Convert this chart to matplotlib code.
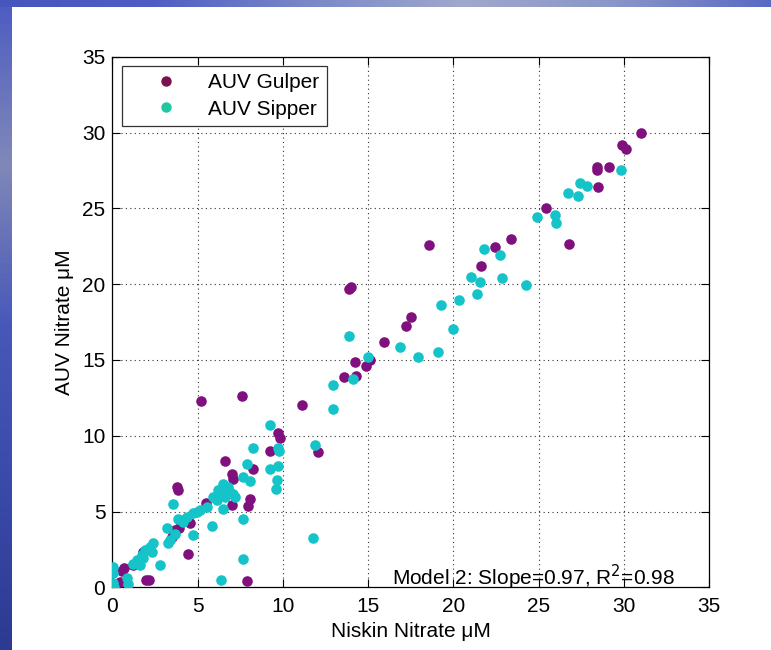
import numpy as np
import matplotlib
matplotlib.use("Agg")
import matplotlib.pyplot as plt
from matplotlib.lines import Line2D
from matplotlib.colors import LinearSegmentedColormap

plt.rcParams['font.family'] = ['Liberation Sans', 'DejaVu Sans']

# ---- data ----
gulper_x = [31.0, 29.9, 30.1, 28.4, 28.4, 29.1, 28.5, 25.4, 26.8, 23.4, 22.46, 21.64, 18.59,
            14.0, 13.9, 17.54, 17.2, 15.92, 14.24, 14.86, 15.1, 13.6, 14.3, 7.58, 5.2, 11.15,
            9.73, 9.82, 12.07, 9.24, 6.6, 8.26, 7.0, 7.09, 7.02, 8.05, 7.95, 5.51, 3.8, 3.85,
            4.55, 3.9, 3.48, 3.67, 4.45, 1.82, 1.23, 0.7, 0.55, 0.45, 1.95, 2.15, 7.87]
gulper_y = [30.0, 29.2, 28.9, 27.7, 27.5, 27.7, 26.4, 25.05, 22.66, 22.97, 22.48, 21.17, 22.61,
            19.8, 19.65, 17.86, 17.22, 16.21, 14.85, 14.59, 15.0, 13.9, 13.95, 12.61, 12.28, 12.0,
            10.18, 9.87, 8.93, 8.97, 8.36, 7.78, 7.45, 7.18, 5.45, 5.83, 5.39, 5.57, 6.6, 6.45,
            4.22, 3.92, 3.34, 3.78, 2.22, 2.33, 1.47, 1.26, 1.1, 0.37, 0.49, 0.49, 0.43]

sipper_x = [29.8, 27.44, 27.83, 26.73, 27.32, 24.9, 25.93, 26.0, 22.75, 21.78, 22.84, 24.28,
            21.0, 21.54, 21.4, 20.33, 19.26, 20.0, 13.89, 16.85, 17.93, 19.1, 15.0, 14.1, 12.91,
            12.91, 9.24, 11.87, 8.26, 9.73, 9.76, 7.87, 9.26, 9.73, 9.63, 9.59, 7.68, 8.05,
            6.5, 6.8, 6.21, 7.09, 5.92, 6.6, 7.19, 6.11, 5.53, 5.14, 4.75, 4.36, 6.9, 6.41,
            6.5, 7.68, 5.87, 4.75, 4.06, 4.16, 3.87, 4.94, 3.57, 3.19, 3.67, 3.28, 3.38, 2.4,
            2.21, 1.92, 1.72, 2.31, 1.82, 2.8, 1.43, 1.23, 1.62, 0.06, 0.02, 0.84, 0.94, 0.06,
            0.0, 0.1, 7.68, 6.35, 11.78]
sipper_y = [27.55, 26.65, 26.45, 26.03, 25.79, 24.43, 24.57, 24.06, 21.95, 22.31, 20.42, 19.96,
            20.49, 20.11, 19.35, 18.95, 18.64, 17.07, 16.6, 15.84, 15.18, 15.51, 15.18, 13.75, 13.38,
            11.78, 10.68, 9.37, 9.19, 9.22, 9.0, 8.13, 7.83, 8.03, 7.11, 6.47, 7.26, 6.99,
            6.85, 6.63, 6.41, 6.19, 5.97, 5.97, 5.97, 5.75, 5.31, 5.09, 4.88, 4.65, 6.3, 6.19,
            5.2, 4.52, 4.08, 3.45, 4.43, 4.32, 4.48, 4.98, 5.53, 3.89, 3.51, 2.94, 3.12, 2.9,
            2.68, 2.46, 2.13, 2.35, 1.91, 1.47, 1.8, 1.54, 1.47, 1.36, 0.93, 0.6, 0.22, 0.27,
            1.0, 0.05, 1.87, 0.49, 3.23]

ticks = [0, 5, 10, 15, 20, 25, 30, 35]
xlabel = "Niskin Nitrate μM"
ylabel = "AUV Nitrate μM"
labels = ["AUV Gulper", "AUV Sipper"]
annot = "Model 2: Slope=0.97, R$^2$=0.98"

FS = 15
W, H = 771, 650
fig = plt.figure(figsize=(W / 100, H / 100), dpi=100)
fig.patch.set_facecolor('white')

# slide background strips
axl = fig.add_axes([0, 0, 12 / W, 1])
gl = np.linspace(0, 1, 200).reshape(-1, 1)
cm_l = LinearSegmentedColormap.from_list('l', ['#4c5cc2', '#8088b8', '#4858b8', '#3a4aa8', '#2c3a92'])
axl.imshow(gl, aspect='auto', cmap=cm_l, extent=[0, 1, 1, 0])
axl.axis('off')
axt = fig.add_axes([0, 1 - 7 / H, 1, 7 / H])
gt = np.linspace(0, 1, 300).reshape(1, -1)
cm_t = LinearSegmentedColormap.from_list('t', ['#4656be', '#4e5ec4', '#7a88c8', '#a0a8cc', '#8a96c8', '#5a6ac4'])
axt.imshow(gt, aspect='auto', cmap=cm_t)
axt.axis('off')

ax = fig.add_axes([112.3 / W, (H - 587.4) / H, (709.3 - 112.3) / W, (587.4 - 56.7) / H])
ax.set_facecolor('white')

ax.scatter(gulper_x, gulper_y, s=58, color='#80107e', linewidths=0, zorder=3)
ax.scatter(sipper_x, sipper_y, s=58, color='#14c4c8', linewidths=0, zorder=3)

ax.set_xlim(0, 35)
ax.set_ylim(0, 35)
ax.set_xticks(ticks)
ax.set_yticks(ticks)
ax.grid(True, linestyle=(0, (1, 3)), color='#333333', linewidth=0.8)
ax.set_axisbelow(True)
ax.tick_params(direction='in', length=5.5, width=0.8, top=True, right=True,
               labelsize=FS, colors='black')
ax.tick_params(axis='x', pad=7)
ax.tick_params(axis='y', pad=5)
for sp in ax.spines.values():
    sp.set_linewidth(0.9)
    sp.set_color('black')

ax.set_xlabel(xlabel, fontsize=FS, labelpad=4)
ax.set_ylabel(ylabel, fontsize=FS, labelpad=6)

ax.text(16.4, 0.68, annot, fontsize=FS, va='center', ha='left')

handles = [Line2D([], [], linestyle='none', marker='o', markersize=7.5, color='#7a1050', markeredgewidth=0),
           Line2D([], [], linestyle='none', marker='o', markersize=7.5, color='#20c8a0', markeredgewidth=0)]
leg = ax.legend(handles, labels, loc='upper left', bbox_to_anchor=(0, 1), fontsize=FS,
                borderaxespad=0.45, borderpad=0.35, handlelength=3.6, handletextpad=0.2,
                labelspacing=0.35, fancybox=False, framealpha=1, edgecolor='#333333')
leg.get_frame().set_linewidth(0.9)

fig.savefig('out.png', dpi=100, facecolor='white')
